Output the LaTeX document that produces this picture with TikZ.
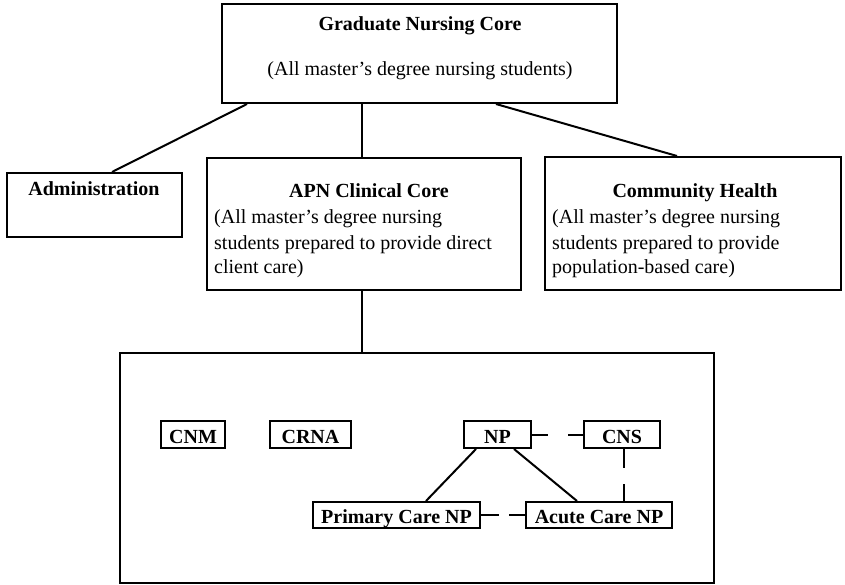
\documentclass[tikz,border=0pt]{standalone}
\usepackage{fontspec}
\setmainfont{Liberation Serif}
\usetikzlibrary{fit,calc}
\begin{document}
\begin{tikzpicture}[x=1pt,y=-1pt,
  box/.style={draw=black, line width=2pt, inner sep=0pt, rectangle},
  lbl/.style={inner sep=0pt, font=\fontsize{20}{24}\selectfont},
  conn/.style={draw=black, line width=2pt},
  dconn/.style={draw=black, line width=2pt}]
\useasboundingbox (0,0) rectangle (845,585);
% boxes
\node[box, fit={(222,4)(617,103)}] (grad) {};
\node[box, fit={(7,173)(182,237)}] (adm) {};
\node[box, fit={(207,158)(521,290)}] (apn) {};
\node[box, fit={(545,157)(841,290)}] (ch) {};
\node[box, fit={(120,353)(714,583)}] (big) {};
\node[box, fit={(161,421)(225,448)}] (cnm) {};
\node[box, fit={(270,421)(351,448)}] (crna) {};
\node[box, fit={(464,421)(531,448)}] (np) {};
\node[box, fit={(584,421)(660,448)}] (cns) {};
\node[box, fit={(313,502)(480,528)}] (prim) {};
\node[box, fit={(526,502)(672,528)}] (acute) {};
% texts
\node[lbl, anchor=base] (gradT) at (420,31) {\bfseries Graduate Nursing Core};
\node[lbl, anchor=base] (gradS) at (420,76) {(All master's degree nursing students)};
\node[lbl, anchor=base] (admT) at (94,196) {\bfseries Administration};
\node[lbl, anchor=base] (apnT) at (369,198) {\bfseries APN Clinical Core};
\node[lbl, anchor=base west] (apn1) at (214,224) {(All master's degree nursing};
\node[lbl, anchor=base west] (apn2) at (214,249) {students prepared to provide direct};
\node[lbl, anchor=base west] (apn3) at (214,273) {client care)};
\node[lbl, anchor=base] (chT) at (695,198) {\bfseries Community Health};
\node[lbl, anchor=base west] (ch1) at (552,224) {(All master's degree nursing};
\node[lbl, anchor=base west] (ch2) at (552,249) {students prepared to provide};
\node[lbl, anchor=base west] (ch3) at (552,273) {population-based care)};
\node[lbl, anchor=base] (cnmT) at ($(cnm.south)+(0,-6)$) {\bfseries CNM};
\node[lbl, anchor=base] (crnaT) at ($(crna.south)+(0,-6)$) {\bfseries CRNA};
\node[lbl, anchor=base] (npT) at ($(np.south)+(0,-6)$) {\bfseries NP};
\node[lbl, anchor=base] (cnsT) at ($(cns.south)+(0,-6)$) {\bfseries CNS};
\node[lbl, anchor=base] (primT) at ($(prim.south)+(0,-6)$) {\bfseries Primary Care NP};
\node[lbl, anchor=base] (acuteT) at ($(acute.south)+(0,-6)$) {\bfseries Acute Care NP};
% connectors
\draw[conn] ($(grad.south west)+(26,0)$) -- ($(adm.north west)+(106,0)$);
\draw[conn] (apn.north -| 362,0) -- (grad.south -| 362,0);
\draw[conn] ($(grad.south west)+(275,0)$) -- ($(ch.north west)+(133,0)$);
\draw[conn] (apn.south -| 362,0) -- (big.north -| 362,0);
\draw[conn] ($(np.south west)+(13,0)$) -- ($(prim.north west)+(114,0)$);
\draw[conn] ($(np.south west)+(51,0)$) -- ($(acute.north west)+(52,0)$);
\draw[dconn, dash pattern=on 16pt off 20pt] (np.east) -- (cns.west);
\draw[dconn, dash pattern=on 18pt off 10pt] (prim.east) -- (acute.west);
\draw[dconn, dash pattern=on 19pt off 16pt] (cns.south -| 624,0) -- (acute.north -| 624,0);
\end{tikzpicture}
\end{document}
